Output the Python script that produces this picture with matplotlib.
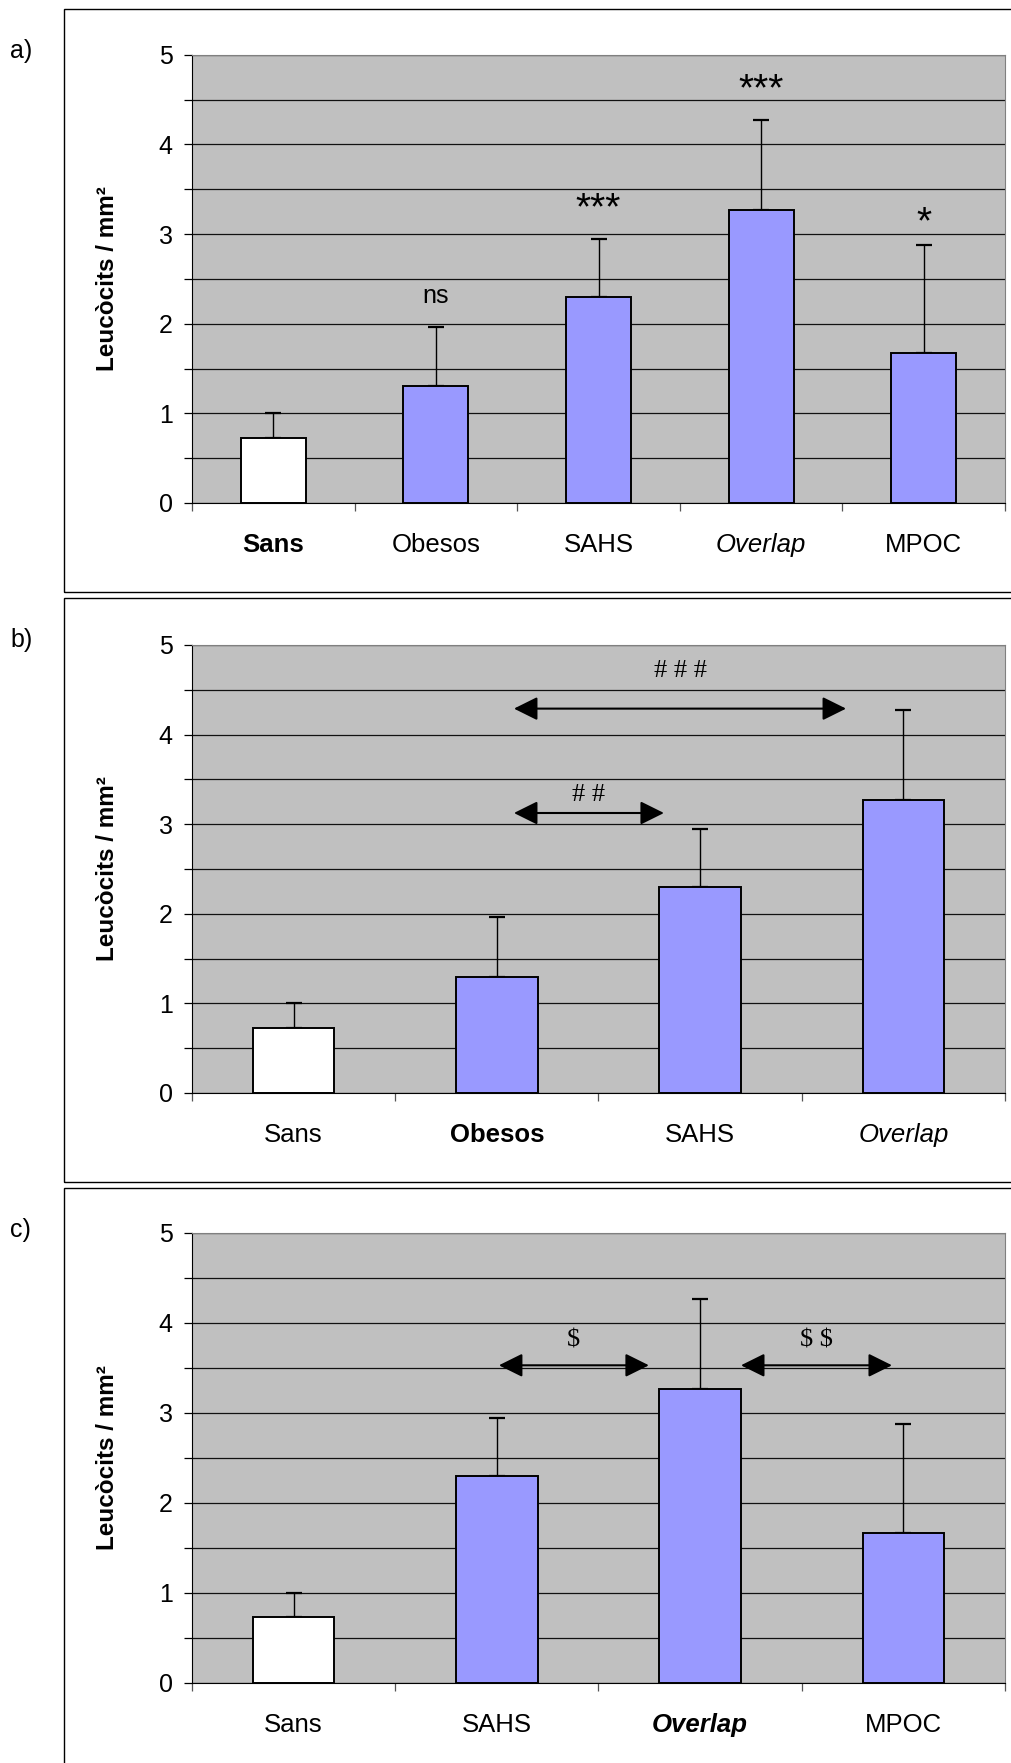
import numpy as np
import matplotlib
matplotlib.use("Agg")
import matplotlib.pyplot as plt
from matplotlib.patches import Rectangle, FancyArrowPatch
from matplotlib.ticker import MultipleLocator

plt.rcParams['font.family'] = ['Liberation Sans', 'DejaVu Sans']

# data (same groups reused in all three panels)
groups = ['Sans', 'Obesos', 'SAHS', 'Overlap', 'MPOC']
means = [0.73, 1.30, 2.30, 3.27, 1.67]
err_up = [0.27, 0.66, 0.65, 1.00, 1.21]
bar_colors = ['white', '#9999FF', '#9999FF', '#9999FF', '#9999FF']

# which groups go in each panel
panel_groups = [
    ['Sans', 'Obesos', 'SAHS', 'Overlap', 'MPOC'],
    ['Sans', 'Obesos', 'SAHS', 'Overlap'],
    ['Sans', 'SAHS', 'Overlap', 'MPOC'],
]
panel_names = ['a)', 'b)', 'c)']
# label styles per panel: (weight, style)
label_style = [
    {'Sans': ('bold', 'normal'), 'Overlap': ('normal', 'italic')},
    {'Obesos': ('bold', 'normal'), 'Overlap': ('normal', 'italic')},
    {'Overlap': ('bold', 'italic')},
]

# significance marks for panel a
sig_a = ['', 'ns', '***', '***', '*']
sig_a_y = [0, 2.23, 3.16, 4.49, 3.01]

# comparison arrows for panels b and c: (x_start, x_end, y_arrow, text, y_text)
arrows_b = [(1.084, 2.718, 4.29, '# # #', 4.64),
            (1.084, 1.822, 3.125, '# #', 3.26)]
arrows_c = [(1.010, 1.748, 3.53, '$', 3.74),
            (2.201, 2.944, 3.53, '$ $', 3.74)]

W, H = 1012, 1763
fig = plt.figure(figsize=(W / 100, H / 100), dpi=100)

ax_bottoms = [503, 1093, 1683]   # pixel row of y=0
ax_tops = [54.8, 645, 1233]      # pixel row of y=5
frame_tops = [8.5, 598, 1188]
frame_bottoms = [592, 1182, 1790]
ax_left, ax_right = 192, 1005


def draw_panel(k):
    names = panel_groups[k]
    idx = [groups.index(n) for n in names]
    vals = [means[i] for i in idx]
    errs = [err_up[i] for i in idx]
    cols = [bar_colors[i] for i in idx]
    x = np.arange(len(names))

    # frame around the panel
    fb = (H - frame_bottoms[k]) / H
    ft = (H - frame_tops[k]) / H
    fig.add_artist(Rectangle((64 / W, fb), 1.2, ft - fb, transform=fig.transFigure,
                             fill=False, edgecolor='black', lw=1.0, clip_on=False))

    b = (H - ax_bottoms[k]) / H
    t = (H - ax_tops[k]) / H
    ax = fig.add_axes([ax_left / W, b, (ax_right - ax_left) / W, t - b])
    ax.set_facecolor('#C0C0C0')
    ax.set_axisbelow(True)

    ax.errorbar(x, vals, yerr=[np.zeros(len(vals)), errs], fmt='none', ecolor='black',
                elinewidth=1.0, capsize=5.5, capthick=1.6, zorder=2)
    ax.bar(x, vals, width=0.4, color=cols, edgecolor='black', linewidth=1.4, zorder=3)

    ax.set_xlim(-0.5, len(names) - 0.5)
    ax.set_ylim(0, 5)
    ax.yaxis.set_major_locator(MultipleLocator(1))
    ax.yaxis.set_minor_locator(MultipleLocator(0.5))
    ax.yaxis.grid(True, which='both', color='#111111', lw=0.9)
    ax.tick_params(axis='y', which='both', direction='out', length=6, width=0.9,
                   labelsize=18, pad=8)

    # ticks between categories, labels at the centres
    ax.set_xticks(np.arange(len(names) + 1) - 0.5)
    ax.set_xticklabels([])
    ax.tick_params(axis='x', which='major', direction='out', length=6, width=0.9,
                   color='#555555')
    ax.set_xticks(x, minor=True)
    ax.set_xticklabels(names, minor=True)
    ax.tick_params(axis='x', which='minor', length=0, labelsize=18.5, pad=21.5)
    for lab in ax.get_xticklabels(minor=True):
        w, s = label_style[k].get(lab.get_text(), ('normal', 'normal'))
        lab.set_fontweight(w)
        lab.set_fontstyle(s)

    for side in ['top', 'right']:
        ax.spines[side].set_color('#808080')
    ax.spines['left'].set_color('black')
    ax.spines['bottom'].set_color('black')

    fig.text(108 / W, (b + t) / 2, 'Leucòcits / mm²', rotation=90, ha='center',
             va='center', fontsize=17.5, fontweight='bold')
    fig.text(10 / W, (H - (frame_tops[k] + 42.5)) / H, panel_names[k], ha='left',
             va='center', fontsize=18)
    return ax


ax_a = draw_panel(0)
ax_b = draw_panel(1)
ax_c = draw_panel(2)

# stars above panel a bars
for i, s in enumerate(sig_a):
    if s:
        fs = 18 if s == 'ns' else 28
        ax_a.text(i, sig_a_y[i], s, ha='center', va='baseline', fontsize=fs)

for ax, arrows in [(ax_b, arrows_b), (ax_c, arrows_c)]:
    for x0, x1, ya, txt, yt in arrows:
        ax.add_patch(FancyArrowPatch((x0, ya), (x1, ya),
                                     arrowstyle='<|-|>,head_length=1.45,head_width=0.72',
                                     mutation_scale=10, color='black', lw=1.5,
                                     shrinkA=0, shrinkB=0, zorder=4))
        ax.text((x0 + x1) / 2, yt, txt, ha='center', va='baseline', fontsize=19,
                family=['Liberation Serif', 'DejaVu Serif'], parse_math=False)

fig.savefig('out.png', dpi=100)
